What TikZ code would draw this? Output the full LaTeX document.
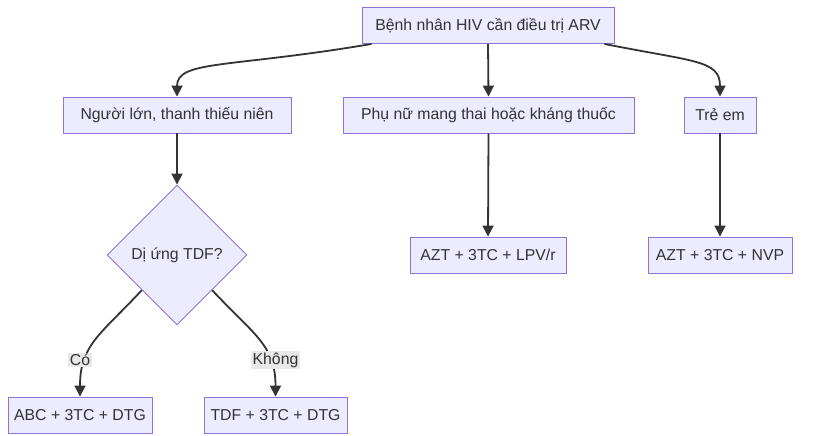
\documentclass[tikz,border=0pt]{standalone}
\usepackage{fontspec}
\setmainfont{Liberation Sans}
\usetikzlibrary{shapes.geometric,arrows.meta}
\definecolor{boxfill}{HTML}{ECECFF}
\definecolor{boxline}{HTML}{9370DB}
\definecolor{edgecol}{HTML}{333333}
\definecolor{lblbg}{HTML}{E8E8E8}
\begin{document}
\begin{tikzpicture}[x=1pt,y=-1pt,
  every node/.style={font=\fontsize{15.8}{19}\selectfont, text=edgecol},
  procbox/.style={draw=boxline, fill=boxfill, line width=0.9pt, rectangle, minimum height=36pt, inner xsep=4pt, inner ysep=0pt},
  decbox/.style={draw=boxline, fill=boxfill, line width=0.9pt, diamond, minimum width=140pt, minimum height=140pt, inner sep=0pt},
  edge/.style={draw=edgecol, line width=1.8pt, -{Triangle[length=11pt,width=11pt]}},
  lbl/.style={fill=lblbg, inner sep=1.5pt}]
\useasboundingbox (0,0) rectangle (832,436);
\node[procbox, minimum width=252pt] (top) at (488,25.5) {Bệnh nhân HIV cần điều trị ARV};
\node[procbox, minimum width=228pt] (a) at (177,115) {Người lớn, thanh thiếu niên};
\node[procbox, minimum width=291pt] (b) at (488.5,115) {Phụ nữ mang thai hoặc kháng thuốc};
\node[procbox, minimum width=72pt] (c) at (720,115) {Trẻ em};
\node[decbox] (d) at (177,255) {Dị ứng TDF?};
\node[procbox, minimum width=156pt] (b2) at (488,255) {AZT + 3TC + LPV/r};
\node[procbox, minimum width=144pt] (c2) at (720,255) {AZT + 3TC + NVP};
\node[procbox, minimum width=144pt] (e1) at (80,415) {ABC + 3TC + DTG};
\node[procbox, minimum width=143pt] (e2) at (275.5,415) {TDF + 3TC + DTG};
\draw[edge] ([xshift=10pt]top.south west) .. controls (230,68) and (177,60) .. (a.north);
\draw[edge] (top.south) -- (b.north);
\draw[edge] ([xshift=-10pt]top.south east) .. controls (695,62) and (720,60) .. (c.north);
\draw[edge] (a.south) -- (d.north);
\draw[edge] (b.south) -- (b2.north);
\draw[edge] (c.south) -- (c2.north);
\draw[edge] (d.-135) .. controls (100,335) and (80,345) .. (e1.north);
\draw[edge] (d.-45) .. controls (254,335) and (275.5,345) .. (e2.north);
\node[lbl] (l1) at (80,360) {Có};
\node[lbl] (l2) at (275.5,360) {Không};
\end{tikzpicture}
\end{document}
